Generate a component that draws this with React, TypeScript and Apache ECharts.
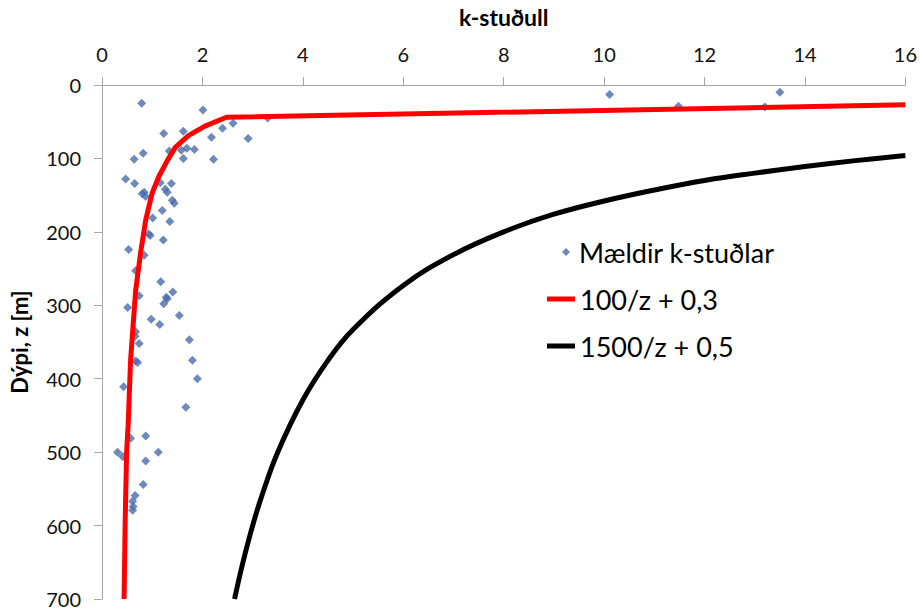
import React, { useEffect, useRef } from "react";
import * as echarts from "echarts";

// Measured k-coefficients: [k, depth z]
const measured: number[][] = [
  [0.79, 25], [2.01, 34], [2.61, 52], [2.4, 59], [2.91, 73], [1.23, 66], [1.62, 63],
  [2.18, 71], [0.82, 93], [0.64, 101], [1.62, 100], [2.22, 101], [1.58, 89], [1.69, 86],
  [1.84, 88], [1.34, 90], [0.47, 128], [0.65, 134], [1.16, 133], [1.38, 134], [0.84, 146],
  [1.26, 142], [0.8, 148], [0.87, 152], [1.3, 146], [1.4, 157], [1.44, 161], [1.2, 171],
  [1.01, 181], [1.35, 186], [0.93, 203], [0.96, 205], [1.22, 211], [0.53, 224], [0.84, 232],
  [0.67, 253], [1.17, 268], [1.41, 282], [1.28, 289], [0.74, 287], [1.3, 291], [1.23, 298],
  [0.51, 303], [1.54, 314], [0.98, 319], [1.15, 326], [0.67, 336], [0.66, 342], [0.74, 352],
  [1.74, 347], [0.67, 376], [0.71, 378], [1.8, 375], [1.9, 400], [0.43, 411], [1.67, 439],
  [0.87, 478], [0.57, 481], [0.31, 500], [0.41, 506], [1.12, 500], [0.87, 512], [0.82, 544],
  [0.66, 559], [0.61, 567], [0.62, 574], [0.61, 579], [10.11, 13], [13.5, 10], [11.48, 29],
  [13.2, 30], [3.3, 45],
];

// Curve 100/z + 0.3 as drawn: [k, z]
const curveRed: number[][] = [
  [16, 27], [2.48, 44], [2.05, 56], [1.72, 69], [1.46, 85], [1.3, 103], [1.13, 125],
  [1.0, 147], [0.87, 184], [0.77, 228], [0.67, 280], [0.57, 374], [0.52, 464], [0.49, 500],
  [0.46, 600], [0.44, 700],
];

// Curve 1500/z + 0.5 as drawn: [k, z]
const curveBlack: number[][] = [
  [16, 96], [15, 103], [14, 111], [13, 120], [12, 130], [11, 143], [10, 158], [9, 176],
  [8, 200], [7, 231], [6, 273], [5, 333], [4.5, 375], [4, 429], [3.5, 500], [3.2, 556],
  [3, 600], [2.8, 652], [2.64, 700],
];

const seriesNames = ["Mældir k-stuðlar", "100/z + 0,3", "1500/z + 0,5"];
const xTitle = "k-stuðull";
const yTitle = "Dýpi, z [m]";

export default function App() {
  const ref = useRef<HTMLDivElement>(null);
  useEffect(() => {
    if (!ref.current) return;
    const chart = echarts.init(ref.current, undefined, { renderer: "svg" });
    const font = "Lato, 'Open Sans', sans-serif";
    const legendText = { fontSize: 27, color: "#000", fontFamily: font, lineHeight: 32 };
    chart.setOption({
      animation: false,
      backgroundColor: "#ffffff",
      textStyle: { fontFamily: font },
      grid: { left: 96, top: 78, right: 14, bottom: 11 },
      legend: [
        {
          orient: "vertical",
          left: 557,
          top: 231,
          itemWidth: 8,
          itemHeight: 8,
          textStyle: { ...legendText, padding: [0, 0, 0, 4] },
          data: [{ name: seriesNames[0], icon: "diamond", itemStyle: { color: "#4a6cab" } }],
        },
        {
          orient: "vertical",
          left: 542,
          top: 278,
          itemWidth: 28,
          itemHeight: 5,
          itemGap: 15,
          textStyle: legendText,
          data: [
            { name: seriesNames[1], icon: "rect", itemStyle: { color: "#ff0000" } },
            { name: seriesNames[2], icon: "rect", itemStyle: { color: "#000000" } },
          ],
        },
      ],
      xAxis: {
        type: "value",
        position: "top",
        min: 0,
        max: 16,
        interval: 2,
        name: xTitle,
        nameLocation: "middle",
        nameGap: 57,
        nameTextStyle: { fontSize: 23, fontWeight: "bold", color: "#000", fontFamily: font },
        axisLine: { show: true, lineStyle: { color: "#a6a6a6", width: 1 } },
        axisTick: { show: true, length: 8, lineStyle: { color: "#a6a6a6" } },
        axisLabel: { fontSize: 20, color: "#111", margin: 21, fontFamily: font },
        splitLine: { show: false },
      },
      yAxis: {
        type: "value",
        inverse: true,
        min: 0,
        max: 700,
        interval: 100,
        name: yTitle,
        nameLocation: "middle",
        nameGap: 72,
        nameRotate: 90,
        nameTextStyle: { fontSize: 22, fontWeight: "bold", color: "#000", fontFamily: font },
        axisLine: { show: true, lineStyle: { color: "#a6a6a6", width: 1 } },
        axisTick: { show: true, length: 8, lineStyle: { color: "#a6a6a6" } },
        axisLabel: { fontSize: 20, color: "#111", margin: 21, fontFamily: font },
        splitLine: { show: false },
      },
      series: [
        {
          name: seriesNames[0],
          type: "scatter",
          symbol: "diamond",
          symbolSize: 9,
          itemStyle: { color: "#4a6cab" },
          data: measured,
          z: 1,
        },
        {
          name: seriesNames[1],
          type: "line",
          symbol: "none",
          lineStyle: { color: "#ff0000", width: 5 },
          itemStyle: { color: "#ff0000" },
          data: curveRed,
          z: 3,
        },
        {
          name: seriesNames[2],
          type: "line",
          symbol: "none",
          smooth: 0.4,
          lineStyle: { color: "#000000", width: 5 },
          itemStyle: { color: "#000000" },
          data: curveBlack,
          z: 3,
        },
      ],
    });
    return () => chart.dispose();
  }, []);
  return (
    <div
      ref={ref}
      style={{ position: "fixed", left: 0, top: 0, width: 920, height: 610, background: "#fff" }}
    />
  );
}
